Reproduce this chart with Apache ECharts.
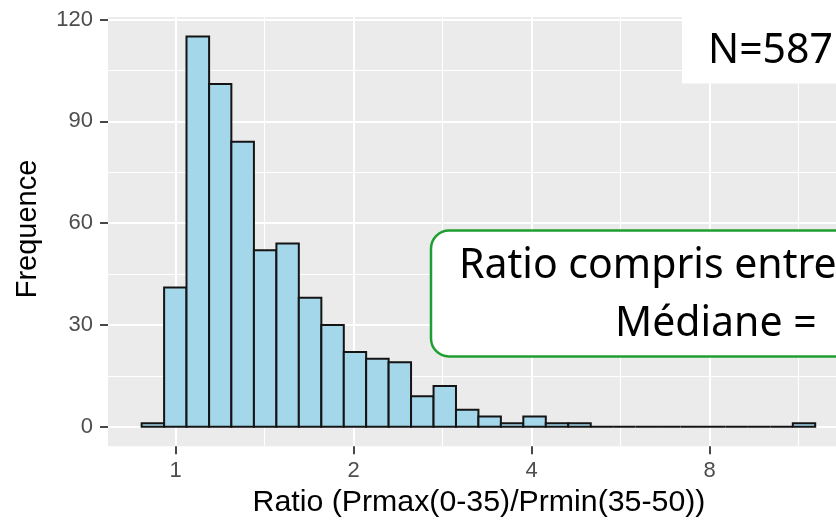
<!DOCTYPE html>
<html>
<head>
<meta charset="utf-8">
<script src="https://cdn.jsdelivr.net/npm/echarts@6/dist/echarts.min.js"></script>
<style>
html,body{margin:0;padding:0;background:#fff;overflow:hidden;width:836px;height:523px;}
#chart{position:absolute;left:-100px;top:-100px;width:1036px;height:723px;}
</style>
</head>
<body>
<div id="chart"></div>
<script>
// Bin edges (ratio values, log2-spaced bins)
const binEdges = [0.875, 0.955, 1.042, 1.138, 1.241, 1.355, 1.479, 1.614, 1.762, 1.923,
  2.098, 2.290, 2.499, 2.728, 2.977, 3.249, 3.546, 3.870, 4.224, 4.610,
  5.032, 5.491, 5.993, 6.541, 7.139, 7.791, 8.503, 9.280, 10.129, 11.056, 12.064];
// Counts per bin
const counts = [1, 41, 115, 101, 84, 52, 54, 38, 30, 22,
  20, 19, 9, 12, 5, 3, 1, 3, 1, 1,
  0, 0, 0, 0, 0, 0, 0, 0, 0, 1];
// Tick labels
const xTickLabels = ['1', '2', '4', '8'];
const yTickLabels = ['0', '30', '60', '90', '120'];

const xTitle = 'Ratio (Prmax(0-35)/Prmin(35-50))';
const yTitle = 'Frequence';
const nText = 'N=587';
const boxLine1 = 'Ratio compris entre';
const boxLine2 = 'Médiane =';

const barData = counts.map((c, i) => [binEdges[i], binEdges[i + 1], c]);

// the drawing surface is larger than the window and shifted, so the plot
// panel may run past the right edge of the visible picture
const OX = 100, OY = 100;
const CW = 1036, CH = 723;

const chart = echarts.init(document.getElementById('chart'), null, {renderer: 'canvas'});

const tickFont = {fontFamily: 'Liberation Sans', fontSize: 22, color: '#4D4D4D'};

function gridBox(l, t, r, b) {
  // l,t,r,b: pixel edges in window coordinates
  return {left: l + OX, top: t + OY, right: CW - (r + OX), bottom: CH - (b + OY)};
}

chart.setOption({
  animation: false,
  backgroundColor: '#ffffff',
  grid: [
    Object.assign(gridBox(108, 17, 848.9, 446.2), {show: true, backgroundColor: '#EBEBEB', borderWidth: 0, z: -1}),
    Object.assign(gridBox(-2.3, 17, 887.7, 446.2), {show: false}),
    Object.assign(gridBox(108, -82.3, 848.9, 528.5), {show: false})
  ],
  xAxis: [
    {gridIndex: 0, type: 'log', logBase: 2, min: 0.7675, max: 13.756, show: false},
    {gridIndex: 1, type: 'value', min: -1, max: 4, interval: 1,
      axisLine: {show: false},
      axisTick: {show: true, length: 8, lineStyle: {color: '#333333', width: 1.8}},
      axisLabel: Object.assign({margin: 14, formatter: v => {
        const idx = Math.round(v);
        return (idx >= 0 && idx < xTickLabels.length) ? xTickLabels[idx] : '';
      }}, tickFont),
      splitLine: {show: true, lineStyle: {color: '#FFFFFF', width: 2}},
      minorTick: {show: false, splitNumber: 2},
      minorSplitLine: {show: true, lineStyle: {color: '#FFFFFF', width: 1.1}}
    },
    {gridIndex: 2, type: 'value', min: 0, max: 1, show: false}
  ],
  yAxis: [
    {gridIndex: 0, type: 'value', min: -5.75, max: 120.75, show: false},
    {gridIndex: 1, type: 'value', min: 0, max: 1, show: false},
    {gridIndex: 2, type: 'value', min: -30, max: 150, interval: 30,
      axisLine: {show: false},
      axisTick: {show: true, length: 8, lineStyle: {color: '#333333', width: 1.8}},
      axisLabel: Object.assign({margin: 15, formatter: v => {
        const idx = Math.round(v / 30);
        return (idx >= 0 && idx < yTickLabels.length) ? yTickLabels[idx] : '';
      }}, tickFont),
      splitLine: {show: true, lineStyle: {color: '#FFFFFF', width: 2}},
      minorTick: {show: false, splitNumber: 2},
      minorSplitLine: {show: true, lineStyle: {color: '#FFFFFF', width: 1.1}}
    }
  ],
  series: [{
    type: 'custom',
    xAxisIndex: 0,
    yAxisIndex: 0,
    z: 5,
    encode: {x: [0, 1], y: 2},
    data: barData,
    renderItem: function (params, api) {
      const p0 = api.coord([api.value(0), api.value(2)]);
      const p1 = api.coord([api.value(1), 0]);
      return {
        type: 'rect',
        shape: {x: p0[0], y: p0[1], width: p1[0] - p0[0], height: p1[1] - p0[1]},
        style: {fill: '#A5D7EB', stroke: '#141414', lineWidth: 2}
      };
    }
  }],
  graphic: [
    {type: 'text', z: 50, x: 479 + OX, y: 503 + OY,
      style: {text: xTitle, fontFamily: 'Liberation Sans', fontSize: 30.3, fill: '#000', align: 'center', verticalAlign: 'middle'}},
    {type: 'text', z: 50, x: 28 + OX, y: 229 + OY, rotation: Math.PI / 2,
      style: {text: yTitle, fontFamily: 'Liberation Sans', fontSize: 29, fill: '#000', align: 'center', verticalAlign: 'middle'}},
    {type: 'rect', z: 60, shape: {x: 682 + OX, y: 8 + OY, width: 200, height: 75.5}, style: {fill: '#FFFFFF'}},
    {type: 'text', z: 61, x: 708 + OX, y: 51 + OY,
      style: {text: nText, fontFamily: 'Noto Sans', fontSize: 41, fill: '#000', align: 'left', verticalAlign: 'middle'}},
    {type: 'rect', z: 60, shape: {x: 431 + OX, y: 230.5 + OY, width: 460, height: 126, r: 18},
      style: {fill: '#FFFFFF', stroke: '#1F9E31', lineWidth: 2.5}},
    {type: 'text', z: 61, x: 459 + OX, y: 266 + OY,
      style: {text: boxLine1, fontFamily: 'Noto Sans', fontSize: 41, fill: '#000', align: 'left', verticalAlign: 'middle'}},
    {type: 'text', z: 61, x: 615 + OX, y: 324 + OY,
      style: {text: boxLine2, fontFamily: 'Noto Sans', fontSize: 41, fill: '#000', align: 'left', verticalAlign: 'middle'}}
  ]
});
</script>
</body>
</html>
